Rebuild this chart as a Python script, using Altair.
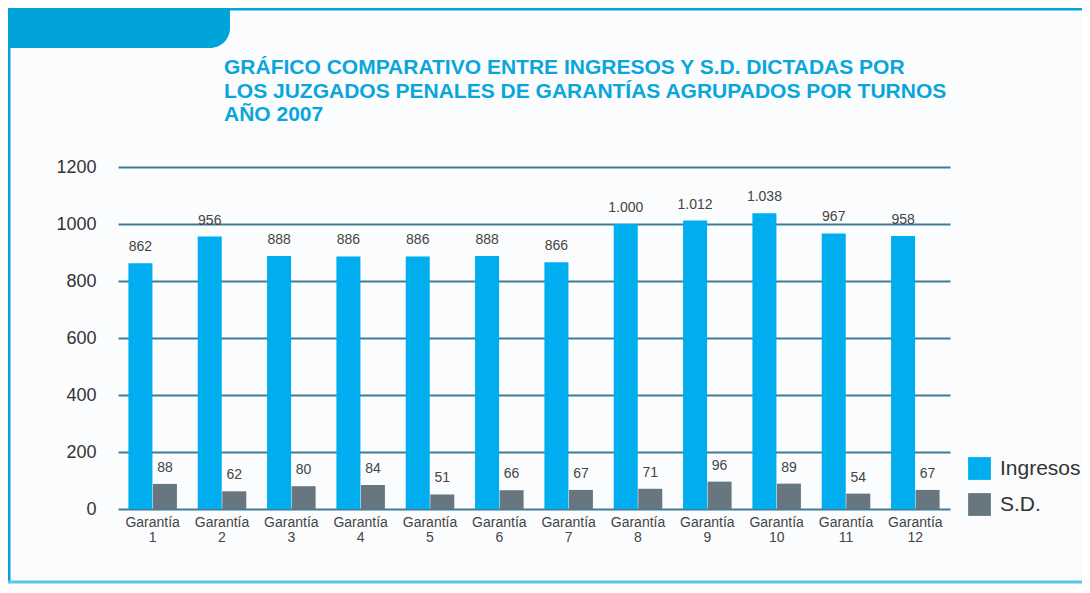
import altair as alt
import pandas as pd

categories = [f"Garantía {i}" for i in range(1, 13)]
ingresos = [862, 956, 888, 886, 886, 888, 866, 1000, 1012, 1038, 967, 958]
sd = [88, 62, 80, 84, 51, 66, 67, 71, 96, 89, 54, 67]
series = ["Ingresos", "S.D."]
colors = ["#00AEEF", "#68777F"]
title_lines = [
    "GRÁFICO COMPARATIVO ENTRE INGRESOS Y S.D. DICTADAS POR",
    "LOS JUZGADOS PENALES DE GARANTÍAS AGRUPADOS POR TURNOS",
    "AÑO 2007",
]
y_ticks = [0, 200, 400, 600, 800, 1000, 1200]

rows = []
for c, a, b in zip(categories, ingresos, sd):
    rows.append({"cat": c, "serie": series[0], "valor": a})
    rows.append({"cat": c, "serie": series[1], "valor": b})
df = pd.DataFrame(rows)
df["etiqueta"] = df["valor"].map(lambda v: f"{v:,}".replace(",", "."))

FONT = "Liberation Sans"
FRAME = "#00A3DA"

x_enc = alt.X(
    "cat:N",
    sort=categories,
    scale=alt.Scale(paddingInner=0.30, paddingOuter=0.15),
    axis=alt.Axis(
        title=None, labelAngle=0, domain=False, ticks=False,
        labelFontSize=14, labelColor="#444444", labelFont=FONT,
        labelPadding=6, labelLineHeight=15,
        labelExpr="split(datum.label, ' ')",
    ),
)
xoff = alt.XOffset("serie:N", sort=series, scale=alt.Scale(paddingInner=0.02))
y_enc = alt.Y(
    "valor:Q",
    scale=alt.Scale(domain=[0, 1200], nice=False),
    axis=alt.Axis(
        title=None, values=y_ticks, format="d", domain=False, ticks=False,
        grid=True, gridColor="#3E7C9A", gridWidth=2,
        labelFontSize=18, labelColor="#333333", labelFont=FONT, labelPadding=22,
    ),
)
color_enc = alt.Color(
    "serie:N",
    sort=series,
    scale=alt.Scale(domain=series, range=colors),
    legend=alt.Legend(
        title=None, orient="none", legendX=850, legendY=290,
        symbolType="square", symbolSize=520, symbolStrokeWidth=0,
        labelFontSize=21, labelFont=FONT, labelColor="#333333",
        labelOffset=9, rowPadding=13,
    ),
)

bars = alt.Chart(df).mark_bar().encode(x=x_enc, xOffset=xoff, y=y_enc, color=color_enc)
labels = alt.Chart(df).mark_text(
    dy=-9, fontSize=14, font=FONT, color="#444444", baseline="bottom"
).encode(x=alt.X("cat:N", sort=categories), xOffset=alt.XOffset("serie:N", sort=series),
         y="valor:Q", text="etiqueta:N")

one = pd.DataFrame({"k": [0]})
tab = alt.Chart(one).mark_rect(color=FRAME, cornerRadiusBottomRight=45).encode(
    x=alt.value(-110), x2=alt.value(112), y=alt.value(-159), y2=alt.value(-119))
top_line = alt.Chart(one).mark_rule(color=FRAME, strokeWidth=3).encode(
    x=alt.value(60), x2=alt.value(964), y=alt.value(-158))
left_line = alt.Chart(one).mark_rule(color=FRAME, strokeWidth=3).encode(
    x=alt.value(-109), y=alt.value(-159), y2=alt.value(416))
bottom_line = alt.Chart(one).mark_rule(color="#5CC3EA", strokeWidth=3).encode(
    x=alt.value(-110), x2=alt.value(964), y=alt.value(415))
title = alt.Chart(one).mark_text(
    align="left", baseline="alphabetic", fontSize=21, font=FONT, fontWeight="bold",
    color="#0AA6DA", lineHeight=23.5,
).encode(x=alt.value(106), y=alt.value(-93), text=alt.value(title_lines))

chart = alt.layer(tab, top_line, left_line, bottom_line, title, bars, labels).properties(
    width=832,
    height=342,
    autosize=alt.AutoSizeParams(type="none"),
    padding={"left": 110, "top": 159, "right": 132, "bottom": 76},
    background="#FBFCFE",
).configure_view(stroke=None)

chart.save("out.html", embed_options={"renderer": "svg", "actions": False})
